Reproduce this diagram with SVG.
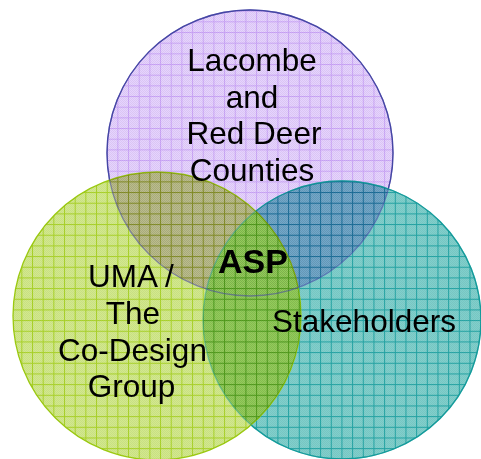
<svg xmlns="http://www.w3.org/2000/svg" width="481" height="459" viewBox="0 0 481 459">
  <style>
    .lbl { font-family: "Liberation Sans", Arial, sans-serif; font-size: 31.5px; fill: #000; text-anchor: middle; }
    .bold { font-weight: bold; font-size: 34px; }
    .mul { mix-blend-mode: multiply; }
    .edge { fill: none; stroke-width: 1.3; }
  </style>
  <defs>
    <pattern id="patP" patternUnits="userSpaceOnUse" width="10.67" height="10.67">
      <rect width="10.67" height="10.67" fill="#e6d2ff"/>
      <rect x="0" y="0" width="1" height="10.67" fill="#cda8fa"/>
      <rect x="0" y="0" width="10.67" height="1" fill="#cda8fa"/>
    </pattern>
    <pattern id="patG" patternUnits="userSpaceOnUse" width="10.67" height="10.67">
      <rect width="10.67" height="10.67" fill="#d3ea8c"/>
      <rect x="0" y="0" width="1" height="10.67" fill="#acd52a"/>
      <rect x="0" y="0" width="10.67" height="1" fill="#acd52a"/>
    </pattern>
    <pattern id="patT" patternUnits="userSpaceOnUse" width="10.67" height="10.67">
      <rect width="10.67" height="10.67" fill="#80d0cc"/>
      <rect x="0" y="0" width="1" height="10.67" fill="#24a6a6"/>
      <rect x="0" y="0" width="10.67" height="1" fill="#24a6a6"/>
    </pattern>
    <pattern id="tintP" patternUnits="userSpaceOnUse" width="10.67" height="10.67">
      <rect width="10.67" height="10.67" fill="#e2cefd"/>
      <rect x="0" y="0" width="1" height="10.67" fill="#c9aef0"/>
      <rect x="0" y="0" width="10.67" height="1" fill="#c9aef0"/>
    </pattern>
    <pattern id="tintGT" patternUnits="userSpaceOnUse" width="10.67" height="10.67">
      <rect width="10.67" height="10.67" fill="#b2e0a4"/>
      <rect x="0" y="0" width="1" height="10.67" fill="#7cc0ad"/>
      <rect x="0" y="0" width="10.67" height="1" fill="#7cc0ad"/>
    </pattern>
    <pattern id="dither" patternUnits="userSpaceOnUse" width="2" height="2">
      <rect width="1" height="1" fill="#000" fill-opacity="0.05"/>
      <rect x="1" y="1" width="1" height="1" fill="#000" fill-opacity="0.05"/>
    </pattern>
    <clipPath id="clipT">
      <circle cx="342" cy="320" r="139"/>
    </clipPath>
    <mask id="maskP" maskUnits="userSpaceOnUse" x="0" y="0" width="481" height="459">
      <circle cx="157" cy="316" r="144" fill="#fff"/>
      <circle cx="342" cy="320" r="139" fill="#fff"/>
      <circle cx="157" cy="316" r="144" fill="#000" clip-path="url(#clipT)"/>
    </mask>
  </defs>
  <rect width="481" height="459" fill="#ffffff"/>

  <g id="lacombe">
    <circle cx="250" cy="153" r="143" fill="url(#patP)" stroke="#4646a6" stroke-width="1.3"/>
  </g>

  <g id="stakeholders">
    <circle cx="342" cy="320" r="139" fill="url(#patT)" stroke="#139c9c" stroke-width="1.3"/>
  </g>

  <g id="uma">
    <circle cx="157" cy="316" r="144" fill="url(#patG)" stroke="#9ccb10" stroke-width="1.3"/>
  </g>

  <g id="overlaps">
    <circle class="mul" cx="157" cy="316" r="144" fill="url(#tintGT)" clip-path="url(#clipT)"/>
    <circle class="mul" cx="250" cy="153" r="143" fill="url(#tintP)" mask="url(#maskP)"/>
    <circle cx="250" cy="153" r="143" fill="url(#dither)"/>
    <circle cx="342" cy="320" r="139" fill="url(#dither)"/>
    <circle cx="157" cy="316" r="144" fill="url(#dither)"/>
    <circle class="edge" cx="250" cy="153" r="143" stroke="#4646a6" stroke-opacity="0.55"/>
    <circle class="edge" cx="342" cy="320" r="139" stroke="#139c9c" stroke-opacity="0.45"/>
  </g>

  <g id="labels">
    <g id="lacombe-label">
      <text class="lbl" x="252" y="71">Lacombe</text>
      <text class="lbl" x="252" y="107.5">and</text>
      <text class="lbl" x="254" y="144">Red Deer</text>
      <text class="lbl" x="252" y="180.5">Counties</text>
    </g>
    <g id="uma-label">
      <text class="lbl" x="131" y="287">UMA /</text>
      <text class="lbl" x="133" y="324">The</text>
      <text class="lbl" x="132.5" y="360.5">Co-Design</text>
      <text class="lbl" x="131.5" y="397">Group</text>
    </g>
    <g id="stakeholders-label">
      <text class="lbl" x="364" y="332">Stakeholders</text>
    </g>
    <g id="asp">
      <text class="lbl bold" x="253" y="273">ASP</text>
    </g>
  </g>
</svg>
